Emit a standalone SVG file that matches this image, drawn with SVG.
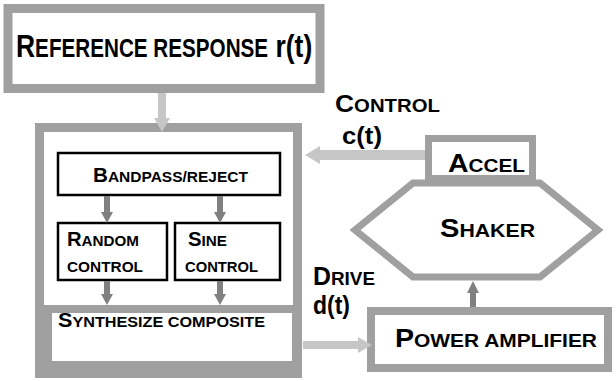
<svg xmlns="http://www.w3.org/2000/svg" width="616" height="381" viewBox="0 0 616 381">
<style>
text{font-family:"Liberation Sans",Arial,sans-serif;font-weight:bold;fill:#000}
.gb{fill:none;stroke:#a0a0a0}
.bb{fill:#fff;stroke:#000;stroke-width:2.5}
.la{fill:#c6c6c6}
.da{fill:#808080}
.b26{font-size:26px}.s19{font-size:19px}
.b20{font-size:20px}.s15{font-size:15px}
</style>
<rect width="616" height="381" fill="#fff"/>
<g id="reference">
<rect class="gb" x="8" y="8.5" width="312" height="80" stroke-width="9"/>
<text transform="translate(16,57) scale(0.827,1)" x="0" y="0"><tspan font-size="32">R</tspan><tspan font-size="25">EFERENCE RESPONSE</tspan><tspan font-size="32"> r(t)</tspan></text>
</g>
<g id="controller">
<rect class="gb" x="39.5" y="127.5" width="258" height="246" stroke-width="9"/>
</g>
<g id="bandpass">
<rect class="bb" x="58" y="153" width="222" height="42"/>
<text x="93" y="182" textLength="155" lengthAdjust="spacingAndGlyphs"><tspan class="b20">B</tspan><tspan class="s15">ANDPASS/REJECT</tspan></text>
</g>
<g id="random">
<rect class="bb" x="58" y="223" width="109" height="57"/>
<text x="67" y="246" textLength="72" lengthAdjust="spacingAndGlyphs"><tspan class="b20">R</tspan><tspan class="s15">ANDOM</tspan></text>
<text x="67" y="272" class="s15" textLength="76" lengthAdjust="spacingAndGlyphs">CONTROL</text>
</g>
<g id="sine">
<rect class="bb" x="175" y="223" width="105" height="57"/>
<text x="188" y="246" textLength="39" lengthAdjust="spacingAndGlyphs"><tspan class="b20">S</tspan><tspan class="s15">INE</tspan></text>
<text x="185" y="272" class="s15" textLength="73" lengthAdjust="spacingAndGlyphs">CONTROL</text>
</g>
<g id="synthesize">
<path fill="#a0a0a0" fill-rule="evenodd" d="M35 305H302V378H35Z M52 313V361H292V313Z"/>
<text x="58" y="327" textLength="207" lengthAdjust="spacingAndGlyphs"><tspan class="b20">S</tspan><tspan class="s15">YNTHESIZE COMPOSITE</tspan></text>
</g>
<g id="shaker">
<polygon class="gb" stroke-width="7" points="413,183 540,183 598,230 540,277 413,277 355,230" fill="#fff"/>
<text x="440" y="237" textLength="95" lengthAdjust="spacingAndGlyphs"><tspan class="b26">S</tspan><tspan class="s19">HAKER</tspan></text>
</g>
<g id="accel">
<rect class="gb" x="428.5" y="138.5" width="104" height="40" stroke-width="7" fill="#fff"/>
<text x="448" y="172" textLength="77" lengthAdjust="spacingAndGlyphs"><tspan class="b26">A</tspan><tspan class="s19">CCEL</tspan></text>
</g>
<g id="amplifier">
<rect class="gb" x="371" y="311" width="237" height="57" stroke-width="8" fill="#fff"/>
<text x="395" y="347" textLength="202" lengthAdjust="spacingAndGlyphs"><tspan class="b26">P</tspan><tspan class="s19">OWER AMPLIFIER</tspan></text>
</g>
<g id="labels">
<text x="335" y="112" textLength="105" lengthAdjust="spacingAndGlyphs"><tspan font-size="24">C</tspan><tspan font-size="18.5">ONTROL</tspan></text>
<text x="342" y="144" font-size="24" textLength="40" lengthAdjust="spacingAndGlyphs">c(t)</text>
<text x="313" y="285" textLength="62" lengthAdjust="spacingAndGlyphs"><tspan font-size="25">D</tspan><tspan font-size="19">RIVE</tspan></text>
<text x="313" y="314" font-size="25" textLength="37" lengthAdjust="spacingAndGlyphs">d(t)</text>
</g>
<g id="connectors">
<polygon class="la" points="158,93 166,93 166,118 170,118 162,132 154,118 158,118"/>
<polygon class="la" points="425,150 320,150 320,146 305,155 320,164 320,160 425,160"/>
<polygon class="la" points="303,341 358,341 358,337 372,345 358,353 358,349 303,349"/>
<polygon class="da" points="104,196 110,196 110,212 113,212 107,223 101,212 104,212"/>
<polygon class="da" points="217,196 223,196 223,212 226,212 220,223 214,212 217,212"/>
<polygon class="da" points="104,281 110,281 110,294 113,294 107,305 101,294 104,294"/>
<polygon class="da" points="217,281 223,281 223,294 226,294 220,305 214,294 217,294"/>
<polygon class="da" points="470,307 476,307 476,293 479,293 473,281 467,293 470,293"/>
</g>
</svg>
